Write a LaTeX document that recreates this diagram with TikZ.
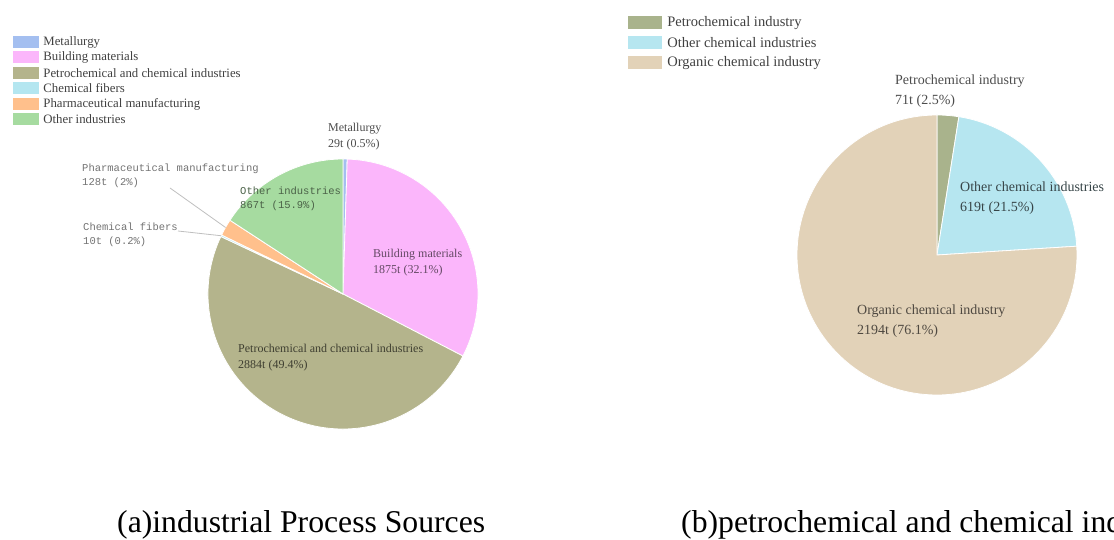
\documentclass[tikz,border=0pt]{standalone}
\usepackage{fontspec}
\setmainfont{Liberation Serif}
\setmonofont{Liberation Mono}
\usetikzlibrary{positioning}
\definecolor{metal}{HTML}{A4BFF0}
\definecolor{build}{HTML}{FBB6FB}
\definecolor{petroA}{HTML}{B4B48C}
\definecolor{fiber}{HTML}{B4E6F0}
\definecolor{pharma}{HTML}{FFC08C}
\definecolor{otherA}{HTML}{A6DBA0}
\definecolor{petroB}{HTML}{A9B38C}
\definecolor{otherB}{HTML}{B6E6F0}
\definecolor{organic}{HTML}{E2D2B8}
\tikzset{
  slice/.style={draw=white, line width=0.8pt},
  swatchA/.style={minimum width=26pt, minimum height=12pt, inner sep=0pt, draw=none},
  swatchB/.style={minimum width=34pt, minimum height=13pt, inner sep=0pt, draw=none},
  legA/.style={inner sep=0pt, text=black!75, font=\fontsize{12.8}{14}\selectfont},
  legB/.style={inner sep=0pt, text=black!75, font=\fontsize{14.5}{16}\selectfont},
  lbl/.style={inner sep=0pt, align=left, anchor=north west, font=\fontsize{12}{16}\selectfont},
  lblmono/.style={inner sep=0pt, align=left, anchor=north west, font=\ttfamily\fontsize{10.5}{14}\selectfont},
  lblB/.style={inner sep=0pt, align=left, anchor=north west, font=\fontsize{14}{20}\selectfont},
  leader/.style={draw=black!25, line width=0.8pt},
  capt/.style={inner sep=0pt, anchor=base west, font=\fontsize{31.7}{36}\selectfont}
}
\begin{document}
\begin{tikzpicture}[x=1pt,y=1pt]
\useasboundingbox (0,0) rectangle (1114,540);
% (a) industrial process sources
\coordinate (A) at (343,246);
\filldraw[slice, fill=metal] (A) -- ++(88.2:135) arc[start angle=88.2, end angle=90, radius=135] -- cycle;
\filldraw[slice, fill=build] (A) -- ++(-27.36:135) arc[start angle=-27.36, end angle=88.2, radius=135] -- cycle;
\filldraw[slice, fill=petroA] (A) -- ++(-205.2:135) arc[start angle=-205.2, end angle=-27.36, radius=135] -- cycle;
\filldraw[slice, fill=fiber] (A) -- ++(-205.92:135) arc[start angle=-205.92, end angle=-205.2, radius=135] -- cycle;
\filldraw[slice, fill=pharma] (A) -- ++(-213.12:135) arc[start angle=-213.12, end angle=-205.92, radius=135] -- cycle;
\filldraw[slice, fill=otherA] (A) -- ++(-270:135) arc[start angle=-270, end angle=-213.12, radius=135] -- cycle;

\node[lbl, text=black!70] (Met) at (328,417) {Metallurgy\\29t (0.5\%)};
\node[lbl, text=build!40!black] (Bld) at (373,291) {Building materials\\1875t (32.1\%)};
\node[lbl, text=petroA!35!black] (PcA) at (238,196) {Petrochemical and chemical industries\\2884t (49.4\%)};
\node[lblmono, text=otherA!45!black] (OthA) at (240,353.5) {Other industries\\867t (15.9\%)};
\node[lblmono, text=black!55] (Pha) at (82,376.5) {Pharmaceutical manufacturing\\128t (2\%)};
\node[lblmono, text=black!55] (Fib) at (83,317.5) {Chemical fibers\\10t (0.2\%)};

\coordinate (PhS) at (170,352);
\coordinate (PhE) at ([shift={(-209.52:135)}]A);
\coordinate (FiS) at (178,309);
\coordinate (FiE) at ([shift={(-205.56:135)}]A);
\path[leader] (PhS)--(PhE);
\path[leader] (FiS)--(FiE);

% legend (a)
\node[swatchA, fill=metal] (LM) at (26,498) {};
\node[swatchA, fill=build] (LB) at (26,482.5) {};
\node[swatchA, fill=petroA] (LP) at (26,467) {};
\node[swatchA, fill=fiber] (LF) at (26,451.5) {};
\node[swatchA, fill=pharma] (LH) at (26,436) {};
\node[swatchA, fill=otherA] (LO) at (26,420.5) {};
\node[legA, right=4pt of LM] {Metallurgy};
\node[legA, right=4pt of LB] {Building materials};
\node[legA, right=4pt of LP] {Petrochemical and chemical industries};
\node[legA, right=4pt of LF] {Chemical fibers};
\node[legA, right=4pt of LH] {Pharmaceutical manufacturing};
\node[legA, right=4pt of LO] {Other industries};

% (b) petrochemical and chemical industries
\coordinate (B) at (937,285);
\filldraw[slice, fill=petroB] (B) -- ++(81:140) arc[start angle=81, end angle=90, radius=140] -- cycle;
\filldraw[slice, fill=otherB] (B) -- ++(3.6:140) arc[start angle=3.6, end angle=81, radius=140] -- cycle;
\filldraw[slice, fill=organic] (B) -- ++(-270:140) arc[start angle=-270, end angle=3.6, radius=140] -- cycle;

\node[lblB, text=black!70] (PcB) at (895,465) {Petrochemical industry\\71t (2.5\%)};
\node[lblB, text=otherB!30!black] (OthB) at (960,358) {Other chemical industries\\619t (21.5\%)};
\node[lblB, text=organic!35!black] (Org) at (857,235) {Organic chemical industry\\2194t (76.1\%)};

% legend (b)
\node[swatchB, fill=petroB] (LPB) at (645,517) {};
\node[swatchB, fill=otherB] (LOB) at (645,497) {};
\node[swatchB, fill=organic] (LGB) at (645,477) {};
\node[legB, right=5pt of LPB] {Petrochemical industry};
\node[legB, right=5pt of LOB] {Other chemical industries};
\node[legB, right=5pt of LGB] {Organic chemical industry};

% captions
\node[capt] (CapA) at (117,7) {(a)industrial Process Sources};
\node[capt] (CapB) at (681,7) {(b)petrochemical and chemical industries};
\end{tikzpicture}
\end{document}
